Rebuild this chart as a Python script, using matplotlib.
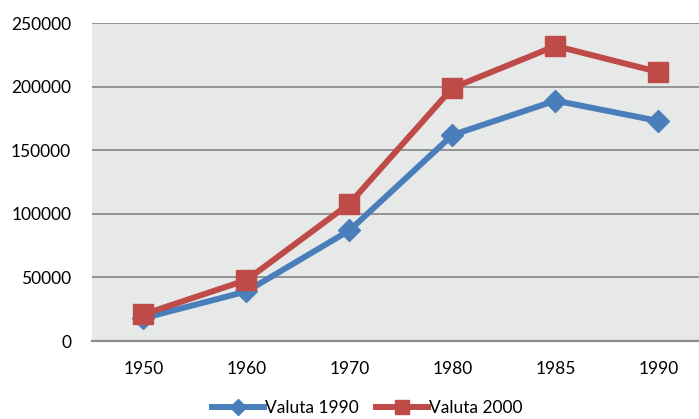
import numpy as np
import matplotlib.pyplot as plt

plt.rcParams['font.family'] = ['Lato', 'DejaVu Sans']

years = ['1950', '1960', '1970', '1980', '1985', '1990']
valuta_1990 = [18000, 39000, 87000, 162000, 189000, 173000]
valuta_2000 = [21000, 48000, 108000, 199000, 232000, 211500]

blue = '#4a7ebb'
red = '#be4b48'

fig = plt.figure(figsize=(6.99, 4.19), dpi=100)
ax = fig.add_axes([0.1316, 0.186, 0.8841, 0.759])
ax.set_facecolor('#e7e8e8')

x = np.arange(len(years))
ax.plot(x, valuta_1990, color=blue, lw=4.3, marker='D', ms=11,
        label='Valuta 1990', solid_joinstyle='miter')
ax.plot(x, valuta_2000, color=red, lw=4.3, marker='s', ms=14,
        label='Valuta 2000', solid_joinstyle='miter')

ax.set_xlim(-0.5, len(years) - 0.5)
ax.set_ylim(0, 250000)
ax.set_yticks(np.arange(0, 250001, 50000))
ax.set_xticks(x)
ax.set_xticklabels(years)
ax.yaxis.grid(True, color='#8c8c8c', lw=1.3)
ax.set_axisbelow(True)
for s in ['left', 'right', 'top']:
    ax.spines[s].set_visible(False)
ax.spines['bottom'].set_color('#8c8c8c')
ax.spines['bottom'].set_linewidth(1.6)
ax.tick_params(axis='both', length=0, labelsize=12.5, colors='black')
ax.tick_params(axis='x', pad=14)
ax.tick_params(axis='y', pad=15)

fig.legend(loc='center', bbox_to_anchor=(0.525, 0.026), ncol=2, frameon=False,
           fontsize=12.5, handlelength=3.0, handletextpad=0.05, columnspacing=1.0,
           markerscale=0.75)

fig.savefig('out.png', dpi=100)
